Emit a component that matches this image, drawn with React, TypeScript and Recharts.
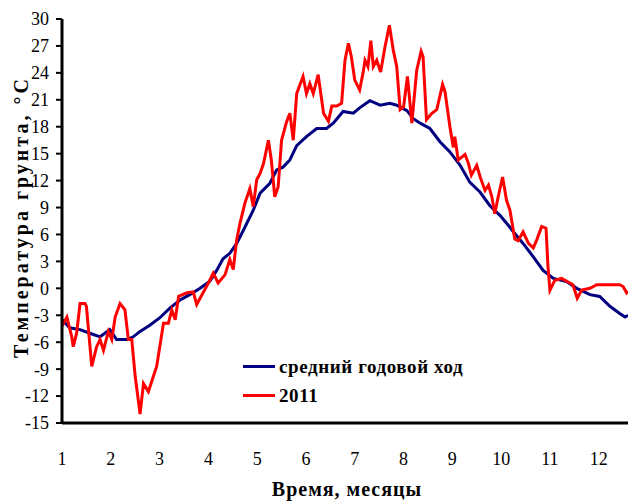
import React from 'react';
import { LineChart, Line, XAxis, YAxis } from 'recharts';

// среднемноголетний ход (месяц, °С)
const meanMonths = [
  1.0, 1.16, 1.37, 1.57, 1.78, 1.98, 2.12, 2.33, 2.46, 2.6, 2.8, 3.0, 3.21, 3.42, 3.62, 3.83,
  4.03, 4.17, 4.3, 4.44, 4.58, 4.72, 4.92, 5.06, 5.26, 5.4, 5.53, 5.67, 5.81, 6.01, 6.22, 6.42,
  6.56, 6.76, 6.97, 7.1, 7.31, 7.52, 7.72, 7.86, 8.07, 8.2, 8.34, 8.54, 8.75, 8.95, 9.16, 9.36,
  9.57, 9.77, 9.98, 10.15, 10.25, 10.45, 10.66, 10.86, 11.07, 11.34, 11.55, 11.82, 12.02, 12.23,
  12.43, 12.54, 12.6,
];
const meanValues = [
  -3.5, -4.4, -4.6, -5.0, -5.4, -4.6, -5.7, -5.7, -5.4, -4.8, -4.1, -3.3, -2.2, -1.3, -0.7, 0.0,
  0.8, 2.0, 3.3, 3.9, 5.0, 6.5, 8.7, 10.6, 11.7, 13.2, 13.5, 14.3, 15.9, 16.9, 17.8, 17.8,
  18.4, 19.7, 19.5, 20.1, 20.9, 20.4, 20.6, 20.4, 19.8, 18.9, 18.4, 17.8, 16.3, 15.2, 13.7, 11.8,
  10.7, 9.2, 8.1, 7.0, 6.3, 5.0, 3.5, 2.0, 1.1, 0.75, 0.0, -0.7, -0.9, -2.0,
  -2.8, -3.2, -3.0,
];

// 2011 год
const months2011 = [
  1.0, 1.1, 1.2, 1.23, 1.3, 1.37, 1.47, 1.5, 1.61, 1.71, 1.78, 1.85, 1.95, 2.02, 2.09, 2.19,
  2.29, 2.36, 2.43, 2.5, 2.6, 2.67, 2.77, 2.94, 3.08, 3.18, 3.25, 3.32, 3.39, 3.56, 3.69, 3.76,
  3.83, 4.0, 4.1, 4.2, 4.34, 4.44, 4.51, 4.58, 4.65, 4.75, 4.85, 4.92, 4.99, 5.06, 5.13, 5.23,
  5.29, 5.36, 5.43, 5.5, 5.6, 5.67, 5.74, 5.81, 5.94, 6.01, 6.08, 6.15, 6.25, 6.36, 6.46, 6.53,
  6.63, 6.73, 6.8, 6.87, 6.93, 7.0, 7.1, 7.17, 7.21, 7.27, 7.33, 7.38, 7.45, 7.53, 7.62, 7.71,
  7.79, 7.86, 7.93, 8.0, 8.08, 8.17, 8.27, 8.36, 8.4, 8.47, 8.58, 8.68, 8.8, 8.85, 8.95, 9.02,
  9.05, 9.12, 9.26, 9.33, 9.39, 9.5, 9.57, 9.67, 9.74, 9.81, 9.87, 9.94, 10.03, 10.11, 10.18,
  10.28, 10.35, 10.45, 10.56, 10.66, 10.73, 10.83, 10.92, 10.96, 11.0, 11.1, 11.24, 11.41,
  11.47, 11.56, 11.65, 11.82, 11.96, 12.16, 12.43, 12.5, 12.57, 12.6,
];
const values2011 = [
  -4.2, -3.2, -5.4, -6.5, -5.0, -1.7, -1.7, -2.0, -8.7, -6.5, -5.7, -6.9, -4.8, -5.7, -3.2, -1.7,
  -2.4, -5.7, -5.7, -9.8, -14.0, -10.6, -11.5, -8.7, -3.9, -3.9, -2.4, -3.5, -0.9, -0.5, -0.4, -1.8,
  -1.1, 0.6, 1.7, 0.6, 1.5, 3.2, 2.1, 5.4, 7.3, 9.5, 11.1, 9.1, 12.1, 12.8, 13.9, 16.5,
  14.3, 10.2, 11.3, 16.5, 18.5, 19.5, 16.5, 21.7, 23.6, 21.7, 22.8, 21.7, 23.8, 19.5, 18.6, 20.3,
  20.3, 20.6, 25.4, 27.3, 25.8, 23.2, 22.1, 24.0, 25.4, 24.7, 27.6, 24.7, 25.4, 24.1, 26.9, 29.3,
  26.5, 24.7, 19.9, 20.2, 23.6, 18.4, 24.3, 26.4, 25.8, 18.8, 19.5, 19.9, 22.7, 21.9, 18.0, 15.7,
  16.9, 14.3, 14.9, 13.9, 12.6, 13.7, 12.4, 10.9, 11.5, 10.2, 8.3, 10.2, 12.4, 9.8, 8.7,
  5.5, 5.3, 6.3, 5.0, 4.5, 5.4, 6.9, 6.7, 2.4, -0.2, 0.9, 1.1, 0.6,
  0.4, -1.1, -0.2, 0.0, 0.4, 0.4, 0.4, 0.2, -0.5, -0.3,
];

const monthTicks = [1, 2, 3, 4, 5, 6, 7, 8, 9, 10, 11, 12];
const tempTicks = [-15, -12, -9, -6, -3, 0, 3, 6, 9, 12, 15, 18, 21, 24, 27, 30];

const seriesNames = ['средний годовой ход', '2011'];
const seriesColors = ['#000080', '#ff0000'];

const meanData = meanMonths.map((m, i) => ({ m, v: meanValues[i] }));
const data2011 = months2011.map((m, i) => ({ m, v: values2011[i] }));

const FONT = '"Liberation Serif", "Times New Roman", serif';

// легенда поверх области графика
function LegendBox() {
  return (
    <div style={{
      position: 'absolute', left: 243, top: 352, fontFamily: FONT, color: '#000',
      fontWeight: 'bold', fontSize: 19, lineHeight: '29px',
    }}>
      {seriesNames.map((name, i) => (
        <div key={name} style={{ display: 'flex', alignItems: 'center', height: 29 }}>
          <div style={{ width: 32, height: 3, background: seriesColors[i], marginRight: 4 }} />
          <span style={{ letterSpacing: 0.6 }}>{name}</span>
        </div>
      ))}
    </div>
  );
}

export default function App() {
  return (
    <div style={{ position: 'absolute', left: 0, top: 0, width: 629, height: 502, background: '#fff' }}>
      <LineChart width={629} height={502} margin={{ top: 19, right: 1, bottom: 0, left: 0 }}>
        <XAxis
          dataKey="m"
          type="number"
          domain={[1, 12.6]}
          ticks={monthTicks}
          interval={0}
          allowDataOverflow
          height={79}
          tickLine={false}
          tickMargin={23}
          axisLine={{ stroke: '#000', strokeWidth: 3 }}
          tick={{ fill: '#000', fontSize: 18, fontFamily: FONT }}
          label={{
            content: () => (
              <text x={347} y={496} textAnchor="middle" fontFamily={FONT} fontSize={20}
                fontWeight="bold" letterSpacing={1} fill="#000">
                Время, месяцы
              </text>
            ),
          }}
        />
        <YAxis
          dataKey="v"
          type="number"
          domain={[-15, 30]}
          ticks={tempTicks}
          interval={0}
          width={62}
          tickSize={6}
          tickMargin={7}
          axisLine={{ stroke: '#000', strokeWidth: 3 }}
          tickLine={{ stroke: '#000', strokeWidth: 2 }}
          tick={{ fill: '#000', fontSize: 18, fontFamily: FONT }}
          label={{
            content: () => (
              <text x={28} y={217} transform="rotate(-90, 28, 217)" textAnchor="middle"
                fontFamily={FONT} fontSize={20} fontWeight="bold" letterSpacing={3} fill="#000">
                Температура грунта, °С
              </text>
            ),
          }}
        />
        <Line data={meanData} dataKey="v" name={seriesNames[0]} type="linear"
          stroke={seriesColors[0]} strokeWidth={3} dot={false} isAnimationActive={false} />
        <Line data={data2011} dataKey="v" name={seriesNames[1]} type="linear"
          stroke={seriesColors[1]} strokeWidth={3} dot={false} isAnimationActive={false} />
      </LineChart>
      <LegendBox />
    </div>
  );
}
